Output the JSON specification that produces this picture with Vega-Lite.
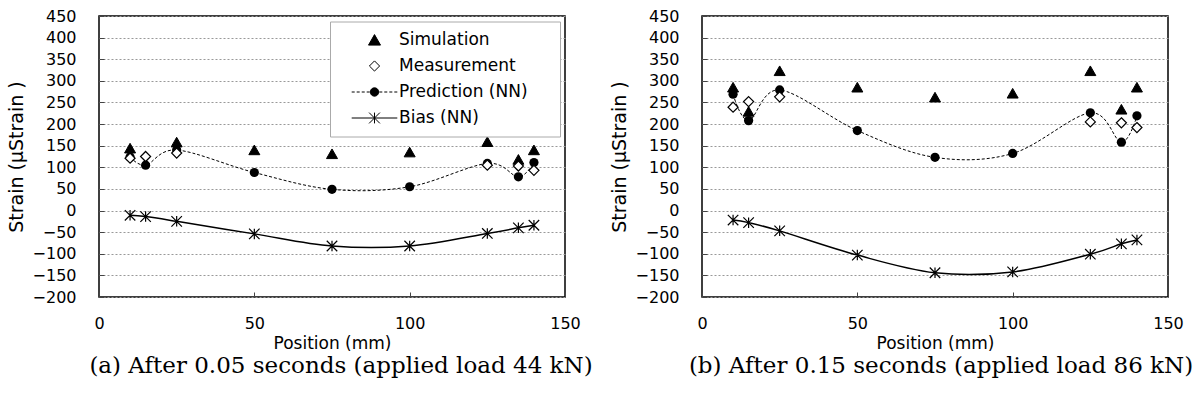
{
  "$schema": "https://vega.github.io/schema/vega-lite/v6.json",
  "padding": {"left": 6, "top": 7, "right": 0, "bottom": 0},
  "background": "white",
  "spacing": 137,
  "bounds": "flush",
  "datasets": {
    "strain": [
      {"panel": "a", "series": "Simulation", "pos": 10, "value": 144},
      {"panel": "a", "series": "Simulation", "pos": 25, "value": 158},
      {"panel": "a", "series": "Simulation", "pos": 50, "value": 140},
      {"panel": "a", "series": "Simulation", "pos": 75, "value": 131},
      {"panel": "a", "series": "Simulation", "pos": 100, "value": 135},
      {"panel": "a", "series": "Simulation", "pos": 125, "value": 159},
      {"panel": "a", "series": "Simulation", "pos": 135, "value": 118},
      {"panel": "a", "series": "Simulation", "pos": 140, "value": 140},
      {"panel": "a", "series": "Prediction (NN)", "pos": 10, "value": 124},
      {"panel": "a", "series": "Prediction (NN)", "pos": 15, "value": 105},
      {"panel": "a", "series": "Prediction (NN)", "pos": 25, "value": 140},
      {"panel": "a", "series": "Prediction (NN)", "pos": 50, "value": 88},
      {"panel": "a", "series": "Prediction (NN)", "pos": 75, "value": 49},
      {"panel": "a", "series": "Prediction (NN)", "pos": 100, "value": 55},
      {"panel": "a", "series": "Prediction (NN)", "pos": 125, "value": 109},
      {"panel": "a", "series": "Prediction (NN)", "pos": 135, "value": 78},
      {"panel": "a", "series": "Prediction (NN)", "pos": 140, "value": 111},
      {"panel": "a", "series": "Measurement", "pos": 10, "value": 121},
      {"panel": "a", "series": "Measurement", "pos": 15, "value": 125},
      {"panel": "a", "series": "Measurement", "pos": 25, "value": 133},
      {"panel": "a", "series": "Measurement", "pos": 125, "value": 105},
      {"panel": "a", "series": "Measurement", "pos": 135, "value": 103},
      {"panel": "a", "series": "Measurement", "pos": 140, "value": 93},
      {"panel": "a", "series": "Bias (NN)", "pos": 10, "value": -11},
      {"panel": "a", "series": "Bias (NN)", "pos": 15, "value": -14},
      {"panel": "a", "series": "Bias (NN)", "pos": 25, "value": -25},
      {"panel": "a", "series": "Bias (NN)", "pos": 50, "value": -54},
      {"panel": "a", "series": "Bias (NN)", "pos": 75, "value": -82},
      {"panel": "a", "series": "Bias (NN)", "pos": 100, "value": -82},
      {"panel": "a", "series": "Bias (NN)", "pos": 125, "value": -53},
      {"panel": "a", "series": "Bias (NN)", "pos": 135, "value": -40},
      {"panel": "a", "series": "Bias (NN)", "pos": 140, "value": -34},
      {"panel": "b", "series": "Simulation", "pos": 10, "value": 285},
      {"panel": "b", "series": "Simulation", "pos": 15, "value": 229},
      {"panel": "b", "series": "Simulation", "pos": 25, "value": 323},
      {"panel": "b", "series": "Simulation", "pos": 50, "value": 285},
      {"panel": "b", "series": "Simulation", "pos": 75, "value": 262},
      {"panel": "b", "series": "Simulation", "pos": 100, "value": 271},
      {"panel": "b", "series": "Simulation", "pos": 125, "value": 323},
      {"panel": "b", "series": "Simulation", "pos": 135, "value": 234},
      {"panel": "b", "series": "Simulation", "pos": 140, "value": 285},
      {"panel": "b", "series": "Prediction (NN)", "pos": 10, "value": 269},
      {"panel": "b", "series": "Prediction (NN)", "pos": 15, "value": 208},
      {"panel": "b", "series": "Prediction (NN)", "pos": 25, "value": 279},
      {"panel": "b", "series": "Prediction (NN)", "pos": 50, "value": 185},
      {"panel": "b", "series": "Prediction (NN)", "pos": 75, "value": 123},
      {"panel": "b", "series": "Prediction (NN)", "pos": 100, "value": 132},
      {"panel": "b", "series": "Prediction (NN)", "pos": 125, "value": 226},
      {"panel": "b", "series": "Prediction (NN)", "pos": 135, "value": 158},
      {"panel": "b", "series": "Prediction (NN)", "pos": 140, "value": 219},
      {"panel": "b", "series": "Measurement", "pos": 10, "value": 239},
      {"panel": "b", "series": "Measurement", "pos": 15, "value": 252},
      {"panel": "b", "series": "Measurement", "pos": 25, "value": 263},
      {"panel": "b", "series": "Measurement", "pos": 125, "value": 205},
      {"panel": "b", "series": "Measurement", "pos": 135, "value": 203},
      {"panel": "b", "series": "Measurement", "pos": 140, "value": 192},
      {"panel": "b", "series": "Bias (NN)", "pos": 10, "value": -22},
      {"panel": "b", "series": "Bias (NN)", "pos": 15, "value": -28},
      {"panel": "b", "series": "Bias (NN)", "pos": 25, "value": -47},
      {"panel": "b", "series": "Bias (NN)", "pos": 50, "value": -103},
      {"panel": "b", "series": "Bias (NN)", "pos": 75, "value": -144},
      {"panel": "b", "series": "Bias (NN)", "pos": 100, "value": -142},
      {"panel": "b", "series": "Bias (NN)", "pos": 125, "value": -101},
      {"panel": "b", "series": "Bias (NN)", "pos": 135, "value": -77},
      {"panel": "b", "series": "Bias (NN)", "pos": 140, "value": -68}
    ]
  },
  "data": {"name": "strain"},
  "resolve": {"scale": {"shape": "independent", "fill": "independent", "stroke": "independent"}, "legend": {"shape": "independent", "fill": "independent", "stroke": "independent"}},
  "hconcat": [
    {
      "width": 466,
      "height": 281,
      "title": {"text": "(a) After 0.05 seconds (applied load 44 kN)", "orient": "bottom", "font": "DejaVu Serif", "fontSize": 23, "fontWeight": "normal", "color": "black", "offset": 4, "anchor": "middle", "dx": 9},
      "transform": [{"filter": "datum.panel === 'a'"}],
      "encoding": {
        "x": {"field": "pos", "type": "quantitative", "scale": {"domain": [0, 150], "nice": false}, "axis": {"values": [0, 50, 100, 150], "title": "Position (mm)", "grid": false}},
        "y": {"field": "value", "type": "quantitative", "scale": {"domain": [-200, 450], "nice": false}, "axis": {"values": [-200, -150, -100, -50, 0, 50, 100, 150, 200, 250, 300, 350, 400, 450], "title": "Strain (µStrain )", "grid": true}}
      },
      "layer": [
        {
          "transform": [{"filter": "datum.series === 'Prediction (NN)'"}],
          "mark": {"type": "line", "interpolate": "cardinal", "strokeDash": [3, 2], "strokeWidth": 1, "color": "black"}
        },
        {
          "transform": [{"filter": "datum.series === 'Bias (NN)'"}],
          "mark": {"type": "line", "interpolate": "cardinal", "strokeWidth": 1.5, "color": "black"}
        },
        {
          "transform": [{"filter": "datum.series === 'Simulation'"}],
          "mark": {"type": "point", "filled": false, "strokeWidth": 1, "opacity": 1, "size": 121},
          "encoding": {
            "shape": {"field": "series", "type": "nominal", "scale": {"domain": ["Simulation", "Measurement", "Prediction (NN)", "Bias (NN)"], "range": ["M0,-0.9L1,0.85L-1,0.85Z", "M0,-0.85L0.85,0L0,0.85L-0.85,0Z", "M28.8,0M-3.8,0H-3.3M-2.97,0H-2.47M-2.13,0H-1.63M-1.3,0H-0.8M0.8,0H1.3M1.63,0H2.13M2.47,0H2.97M3.3,0H3.8M0.7,0A0.7,0.7,0,1,1,-0.7,0A0.7,0.7,0,1,1,0.7,0Z", "M28.8,0M-3.8,0H3.8M0,-0.9V0.9M-0.9,-0.9L0.9,0.9M-0.9,0.9L0.9,-0.9"]},
              "legend": {"orient": "none", "legendX": 231, "legendY": 5.5, "title": null, "fillColor": "white", "strokeColor": "#aaa", "padding": 10, "labelFont": "DejaVu Sans", "labelFontSize": 17, "labelColor": "black", "symbolSize": 144, "rowPadding": 8, "symbolOffset": 26, "labelOffset": 16, "symbolStrokeWidth": 1, "symbolStrokeColor": "black", "zindex": 1}},
            "fill": {"field": "series", "type": "nominal", "scale": {"domain": ["Simulation", "Measurement", "Prediction (NN)", "Bias (NN)"], "range": ["black", "white", "black", "transparent"]},
              "legend": {"orient": "none", "legendX": 231, "legendY": 5.5, "title": null, "fillColor": "white", "strokeColor": "#aaa", "padding": 10, "labelFont": "DejaVu Sans", "labelFontSize": 17, "labelColor": "black", "symbolSize": 144, "rowPadding": 8, "symbolOffset": 26, "labelOffset": 16, "symbolStrokeWidth": 1, "symbolStrokeColor": "black", "zindex": 1}},
            "stroke": {"field": "series", "type": "nominal", "scale": {"domain": ["Simulation", "Measurement", "Prediction (NN)", "Bias (NN)"], "range": ["black", "black", "black", "black"]},
              "legend": {"orient": "none", "legendX": 231, "legendY": 5.5, "title": null, "fillColor": "white", "strokeColor": "#aaa", "padding": 10, "labelFont": "DejaVu Sans", "labelFontSize": 17, "labelColor": "black", "symbolSize": 144, "rowPadding": 8, "symbolOffset": 26, "labelOffset": 16, "symbolStrokeWidth": 1, "symbolStrokeColor": "black", "zindex": 1}}
          }
        },
        {
          "transform": [{"filter": "datum.series === 'Prediction (NN)'"}],
          "mark": {"type": "point", "shape": "circle", "filled": true, "color": "black", "opacity": 1, "size": 85}
        },
        {
          "transform": [{"filter": "datum.series === 'Measurement'"}],
          "mark": {"type": "point", "filled": false, "strokeWidth": 1.2, "opacity": 1, "size": 140},
          "encoding": {
            "shape": {"field": "series", "type": "nominal", "scale": {"domain": ["Simulation", "Measurement", "Prediction (NN)", "Bias (NN)"], "range": ["M0,-0.9L1,0.85L-1,0.85Z", "M0,-0.85L0.85,0L0,0.85L-0.85,0Z", "M28.8,0M-3.8,0H-3.3M-2.97,0H-2.47M-2.13,0H-1.63M-1.3,0H-0.8M0.8,0H1.3M1.63,0H2.13M2.47,0H2.97M3.3,0H3.8M0.7,0A0.7,0.7,0,1,1,-0.7,0A0.7,0.7,0,1,1,0.7,0Z", "M28.8,0M-3.8,0H3.8M0,-0.9V0.9M-0.9,-0.9L0.9,0.9M-0.9,0.9L0.9,-0.9"]},
              "legend": {"orient": "none", "legendX": 231, "legendY": 5.5, "title": null, "fillColor": "white", "strokeColor": "#aaa", "padding": 10, "labelFont": "DejaVu Sans", "labelFontSize": 17, "labelColor": "black", "symbolSize": 144, "rowPadding": 8, "symbolOffset": 26, "labelOffset": 16, "symbolStrokeWidth": 1, "symbolStrokeColor": "black", "zindex": 1}},
            "fill": {"field": "series", "type": "nominal", "scale": {"domain": ["Simulation", "Measurement", "Prediction (NN)", "Bias (NN)"], "range": ["black", "white", "black", "transparent"]},
              "legend": {"orient": "none", "legendX": 231, "legendY": 5.5, "title": null, "fillColor": "white", "strokeColor": "#aaa", "padding": 10, "labelFont": "DejaVu Sans", "labelFontSize": 17, "labelColor": "black", "symbolSize": 144, "rowPadding": 8, "symbolOffset": 26, "labelOffset": 16, "symbolStrokeWidth": 1, "symbolStrokeColor": "black", "zindex": 1}},
            "stroke": {"field": "series", "type": "nominal", "scale": {"domain": ["Simulation", "Measurement", "Prediction (NN)", "Bias (NN)"], "range": ["black", "black", "black", "black"]},
              "legend": {"orient": "none", "legendX": 231, "legendY": 5.5, "title": null, "fillColor": "white", "strokeColor": "#aaa", "padding": 10, "labelFont": "DejaVu Sans", "labelFontSize": 17, "labelColor": "black", "symbolSize": 144, "rowPadding": 8, "symbolOffset": 26, "labelOffset": 16, "symbolStrokeWidth": 1, "symbolStrokeColor": "black", "zindex": 1}}
          }
        },
        {
          "transform": [{"filter": "datum.series === 'Bias (NN)'"}],
          "mark": {"type": "point", "shape": "M0,-1V1M-1,-1L1,1M-1,1L1,-1", "filled": false, "stroke": "black", "strokeWidth": 1.2, "opacity": 1, "size": 110}
        }
      ]
    },
    {
      "width": 466,
      "height": 281,
      "title": {"text": "(b) After 0.15 seconds (applied load 86 kN)", "orient": "bottom", "font": "DejaVu Serif", "fontSize": 23, "fontWeight": "normal", "color": "black", "offset": 4, "anchor": "middle", "dx": 6},
      "transform": [{"filter": "datum.panel === 'b'"}],
      "encoding": {
        "x": {"field": "pos", "type": "quantitative", "scale": {"domain": [0, 150], "nice": false}, "axis": {"values": [0, 50, 100, 150], "title": "Position (mm)", "grid": false}},
        "y": {"field": "value", "type": "quantitative", "scale": {"domain": [-200, 450], "nice": false}, "axis": {"values": [-200, -150, -100, -50, 0, 50, 100, 150, 200, 250, 300, 350, 400, 450], "title": "Strain (µStrain )", "grid": true}}
      },
      "layer": [
        {
          "transform": [{"filter": "datum.series === 'Prediction (NN)'"}],
          "mark": {"type": "line", "interpolate": "cardinal", "strokeDash": [3, 2], "strokeWidth": 1, "color": "black"}
        },
        {
          "transform": [{"filter": "datum.series === 'Bias (NN)'"}],
          "mark": {"type": "line", "interpolate": "cardinal", "strokeWidth": 1.5, "color": "black"}
        },
        {
          "transform": [{"filter": "datum.series === 'Simulation'"}],
          "mark": {"type": "point", "shape": "M0,-0.9L1,0.85L-1,0.85Z", "filled": true, "color": "black", "stroke": "black", "strokeWidth": 1, "opacity": 1, "size": 121}
        },
        {
          "transform": [{"filter": "datum.series === 'Prediction (NN)'"}],
          "mark": {"type": "point", "shape": "circle", "filled": true, "color": "black", "opacity": 1, "size": 85}
        },
        {
          "transform": [{"filter": "datum.series === 'Measurement'"}],
          "mark": {"type": "point", "shape": "M0,-0.85L0.85,0L0,0.85L-0.85,0Z", "filled": false, "fill": "white", "stroke": "black", "strokeWidth": 1.2, "opacity": 1, "size": 140}
        },
        {
          "transform": [{"filter": "datum.series === 'Bias (NN)'"}],
          "mark": {"type": "point", "shape": "M0,-1V1M-1,-1L1,1M-1,1L1,-1", "filled": false, "stroke": "black", "strokeWidth": 1.2, "opacity": 1, "size": 110}
        }
      ]
    }
  ],
  "config": {
    "view": {"stroke": "black", "strokeWidth": 1.5},
    "font": "DejaVu Sans",
    "axis": {"labelFont": "DejaVu Sans", "labelFontSize": 16, "labelColor": "black", "labelFlush": false, "titleFont": "DejaVu Sans", "titleFontWeight": "normal", "titleColor": "black", "domain": false, "tickColor": "#444", "tickSize": -5, "gridColor": "#999", "gridDash": [2, 2], "gridWidth": 1},
    "axisY": {"labelPadding": 28, "titleFontSize": 19, "titlePadding": 6},
    "axisX": {"labelPadding": 23, "titleFontSize": 17, "titlePadding": 4}
  }
}
